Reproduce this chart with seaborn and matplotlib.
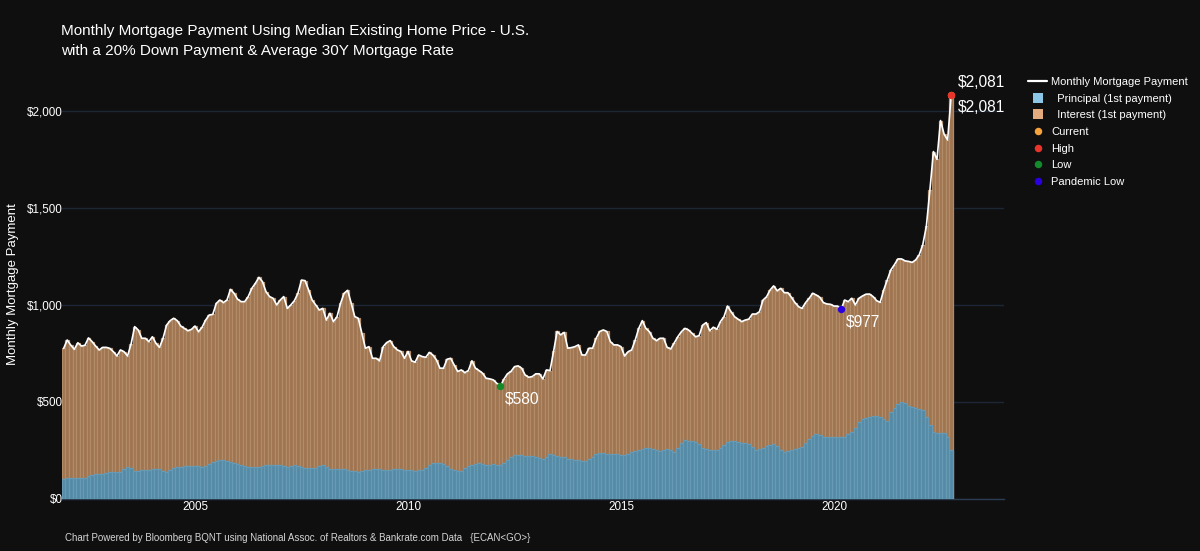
import numpy as np
import pandas as pd
import matplotlib
matplotlib.use("Agg")
import matplotlib.pyplot as plt
from matplotlib.lines import Line2D
import seaborn as sns

# Monthly values, Dec 2001 - Oct 2022
payment = [
    776,819,793,771,805,788,792,830,811,788,
    768,781,781,776,759,737,768,759,737,799,
    888,871,828,828,811,836,802,781,828,896,
    919,931,919,891,879,867,874,891,862,885,
    922,948,951,1008,1025,1012,1025,1080,1060,1029,
    1017,1017,1043,1085,1111,1142,1120,1068,1043,1034,
    1000,1025,1043,982,1000,1022,1060,1128,1125,1077,
    1025,1000,974,982,922,957,914,939,1008,1060,
    1075,1009,940,931,854,777,785,725,725,712,
    785,806,816,785,768,760,725,760,712,705,
    742,734,730,755,742,717,674,674,720,725,
    691,657,665,651,662,712,674,662,648,622,
    619,614,596,580,617,645,657,682,686,674,
    639,627,631,645,645,619,665,662,760,863,
    846,858,777,780,785,794,742,742,777,777,
    828,863,871,863,811,794,794,785,737,759,
    768,819,879,919,879,862,828,816,828,828,
    781,773,805,836,862,879,871,854,836,842,
    896,909,867,885,874,914,939,994,965,939,
    926,914,922,927,953,953,965,1025,1042,1077,
    1098,1073,1085,1063,1063,1039,1012,991,982,1012,
    1034,1060,1051,1039,1012,1005,1003,994,994,977,
    1025,1017,1034,1000,1034,1046,1055,1056,1043,1022,
    1013,1077,1128,1180,1207,1237,1237,1227,1224,1219,
    1232,1258,1310,1404,1590,1790,1750,1950,1880,1850,2081,
]
principal = [
    103,106,110,110,108,106,110,120,125,128,
    129,128,135,141,141,140,141,155,166,160,
    146,146,148,149,150,152,154,152,146,141,
    148,160,166,167,168,168,170,170,170,166,
    172,182,192,198,201,201,198,192,185,180,
    174,170,167,165,164,163,168,175,176,175,
    175,175,170,166,170,175,170,164,162,160,
    158,160,168,175,165,154,155,155,154,154,
    150,146,142,137,144,149,151,153,154,154,
    151,149,151,153,154,154,151,149,147,146,
    147,149,160,175,184,185,184,178,168,156,
    148,146,146,158,168,175,180,184,178,173,
    177,180,177,175,185,200,215,225,227,226,
    224,222,222,216,210,206,218,230,226,222,
    218,214,208,204,201,199,197,196,205,218,
    230,239,235,232,231,230,230,229,228,230,
    240,249,255,260,264,265,258,252,249,252,
    256,252,244,265,290,304,300,298,296,285,
    265,256,254,253,253,265,280,295,301,300,
    296,290,287,284,270,255,258,265,272,280,
    284,275,255,244,248,254,259,261,270,290,
    310,325,334,330,322,318,320,322,322,321,
    321,335,347,365,395,411,417,422,427,428,
    420,410,404,450,470,490,501,495,479,472,
    467,462,458,420,380,343,340,340,338,320,252,
]
year_ticks = [2005, 2010, 2015, 2020]
usd_ticks = [0, 500, 1000, 1500, 2000]
usd_labels = ["$0", "$500", "$1,000", "$1,500", "$2,000"]
months = np.arange(len(payment)) / 12 + 2001 + 11 / 12

low_idx, pandemic_idx, high_idx = 123, 219, 250

BG = "#0f0f10"
FONT = ["Liberation Sans", "DejaVu Sans"]
sns.set_theme(style="dark")
plt.rcParams["font.family"] = FONT

df = pd.DataFrame({"date": months, "payment": payment, "principal": principal})

fig = plt.figure(figsize=(12, 5.51), dpi=100, facecolor=BG)
ax = fig.add_axes([62 / 1200, 1 - 499 / 551, (1004 - 62) / 1200, (499 - 72) / 551], facecolor=BG)

sns.barplot(data=df, x="date", y="payment", native_scale=True, color="#9f7550", saturation=1,
            width=1.0, edgecolor="#b28b68", linewidth=0.9, ax=ax, zorder=2)
sns.barplot(data=df, x="date", y="principal", native_scale=True, color="#548aa6", saturation=1,
            width=1.0, edgecolor="#679ab5", linewidth=0.9, ax=ax, zorder=3)
sns.lineplot(data=df, x="date", y="payment", color="white", linewidth=1.2, ax=ax, zorder=4)

marker_sets = [(high_idx, "#f5a33a"), (high_idx, "#e8352b"), (low_idx, "#138a2c"), (pandemic_idx, "#2a00e0")]
for idx, col in marker_sets:
    sns.scatterplot(x=[months[idx]], y=[payment[idx]], color=col, s=28, linewidth=0, ax=ax, zorder=5)

ax.set_xlim(2001.878, 2023.99)
ax.set_ylim(0, 2200)
ax.set_xticks(year_ticks)
ax.set_xticklabels([str(y) for y in year_ticks])
ax.set_yticks(usd_ticks)
ax.set_yticklabels(usd_labels)
ax.tick_params(axis="x", length=0, colors="white", labelsize=8.4, pad=1.8)
ax.tick_params(axis="y", length=0, colors="white", labelsize=8.4, pad=-0.6)
ax.grid(axis="y", color="#1b2735", linewidth=1)
ax.grid(axis="x", visible=False)
ax.set_axisbelow(True)
ax.set_xlabel("")
ax.set_ylabel("")
for s in ["top", "right", "left"]:
    ax.spines[s].set_visible(False)
ax.spines["bottom"].set_color("#2c3c50")
ax.spines["bottom"].set_linewidth(1)

lab = dict(color="white", fontsize=11.2, textcoords="offset points", annotation_clip=False, zorder=6)
ax.annotate("$580", (months[low_idx], payment[low_idx]), xytext=(3.5, -12), **lab)
ax.annotate("$977", (months[pandemic_idx], payment[pandemic_idx]), xytext=(3.5, -12.5), **lab)
ax.annotate("$2,081", (months[high_idx], payment[high_idx]), xytext=(4.6, 5.7), **lab)
ax.annotate("$2,081", (months[high_idx], payment[high_idx]), xytext=(4.6, -12.3), **lab)

fig.text(61 / 1200, 1 - 35.3 / 551, "Monthly Mortgage Payment Using Median Existing Home Price - U.S.",
         color="white", fontsize=11.03, va="baseline")
fig.text(61 / 1200, 1 - 55.3 / 551, "with a 20% Down Payment & Average 30Y Mortgage Rate",
         color="white", fontsize=11.03, va="baseline")
fig.text(65 / 1200, 1 - 541 / 551, "Chart Powered by Bloomberg BQNT using National Assoc. of Realtors & Bankrate.com Data   {ECAN<GO>}",
         color="#d5d5d5", fontsize=7.03, va="baseline")
fig.text(13 / 1200, 1 - 284 / 551, "Monthly Mortgage Payment", color="white", fontsize=9.5,
         rotation=90, va="center", ha="center")

def dot(c):
    return Line2D([], [], linestyle="none", marker="o", markersize=5.4, markerfacecolor=c, markeredgewidth=0)

def square(c):
    return Line2D([], [], linestyle="none", marker="s", markersize=6.6, markerfacecolor=c, markeredgewidth=0)

handles = [Line2D([], [], color="white", linewidth=1.6), square("#8cc6e6"), square("#e3aa7e"),
           dot("#f5a33a"), dot("#e8352b"), dot("#138a2c"), dot("#2a00e0")]
labels = ["Monthly Mortgage Payment", "  Principal (1st payment)", "  Interest (1st payment)",
          "Current", "High", "Low", "Pandemic Low"]
leg = fig.legend(handles, labels, loc="upper left", bbox_to_anchor=(1025 / 1200, 1 - 73.5 / 551),
                 frameon=False, fontsize=8.0, labelcolor="white", handlelength=1.7, handletextpad=0.36,
                 labelspacing=0.6, borderpad=0.3, borderaxespad=0)

fig.savefig("out.png", dpi=100, facecolor=BG)
